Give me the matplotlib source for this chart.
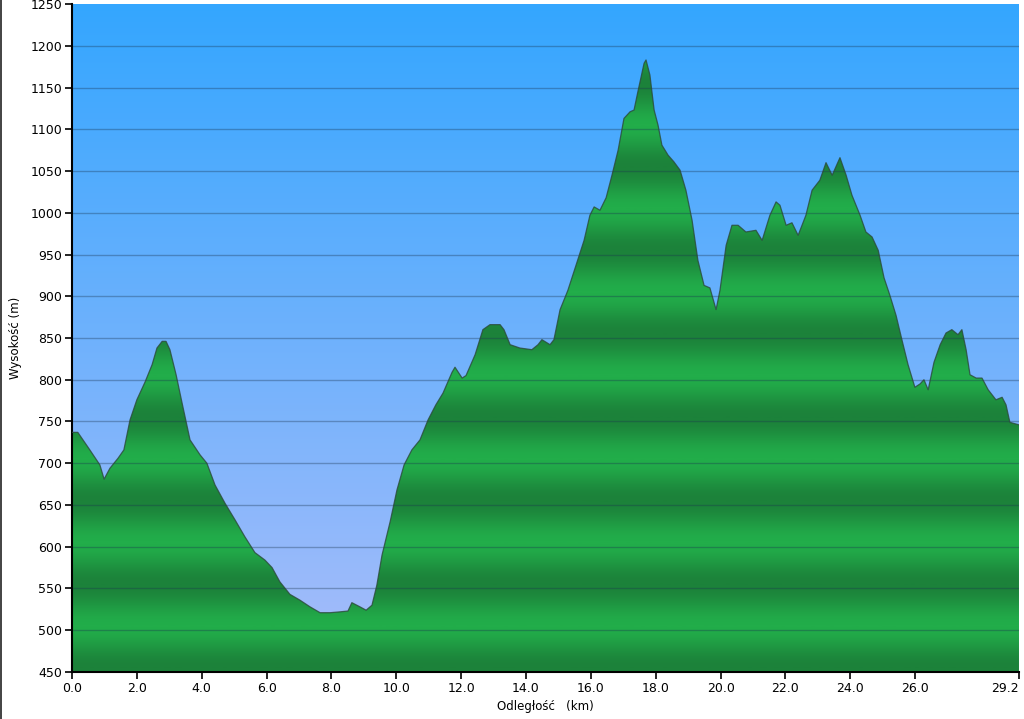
import matplotlib
matplotlib.use("Agg")
import matplotlib.pyplot as plt
from matplotlib.colors import LinearSegmentedColormap
from matplotlib.lines import Line2D
import numpy as np

# profil trasy: odleglosc (km) i wysokosc (m)
dist_km = [0.0, 0.18, 0.55, 0.86, 0.99, 1.17, 1.42, 1.60, 1.79, 2.00, 2.25, 2.47,
           2.62, 2.78, 2.90, 3.02, 3.21, 3.39, 3.64, 3.95, 4.16, 4.41, 4.72, 5.03,
           5.33, 5.64, 5.95, 6.17, 6.41, 6.72, 7.03, 7.34, 7.65, 7.96, 8.26, 8.51,
           8.63, 8.88, 9.07, 9.25, 9.40, 9.56, 9.81, 10.02, 10.24, 10.48, 10.73,
           10.98, 11.22, 11.44, 11.72, 11.81, 12.03, 12.15, 12.43, 12.67, 12.89,
           13.20, 13.32, 13.51, 13.81, 14.18, 14.37, 14.49, 14.74, 14.86, 15.05,
           15.29, 15.54, 15.79, 15.97, 16.10, 16.28, 16.47, 16.65, 16.84, 17.02,
           17.21, 17.33, 17.46, 17.64, 17.70, 17.82, 17.95, 18.07, 18.19, 18.38,
           18.56, 18.75, 18.93, 19.12, 19.30, 19.49, 19.67, 19.86, 19.98, 20.17,
           20.35, 20.54, 20.78, 21.09, 21.28, 21.52, 21.71, 21.83, 22.02, 22.20,
           22.39, 22.63, 22.82, 23.06, 23.25, 23.44, 23.68, 23.87, 24.05, 24.30,
           24.48, 24.67, 24.86, 25.04, 25.22, 25.41, 25.59, 25.78, 25.99, 26.15,
           26.27, 26.40, 26.58, 26.77, 26.95, 27.13, 27.32, 27.44, 27.57, 27.69,
           27.88, 28.06, 28.25, 28.49, 28.68, 28.80, 28.92, 29.2]
elev_m = [737, 737, 716, 698, 681, 694, 706, 716, 752, 776, 797, 818,
          838, 846, 846, 836, 806, 773, 728, 710, 700, 674, 652, 632,
          612, 593, 584, 575, 558, 543, 536, 528, 521, 521, 522, 523,
          533, 528, 524, 530, 554, 590, 630, 668, 698, 716, 728,
          752, 770, 784, 809, 815, 802, 805, 830, 860, 866,
          866, 860, 842, 838, 836, 842, 848, 842, 848, 884,
          907, 937, 967, 997, 1007, 1003, 1018, 1045, 1075, 1113,
          1121, 1123, 1147, 1179, 1183, 1165, 1123, 1105, 1081, 1069,
          1061, 1051, 1027, 991, 943, 913, 910, 884, 907, 961,
          985, 985, 977, 979, 967, 997, 1013, 1009, 985, 988,
          973, 997, 1027, 1039, 1060, 1045, 1066, 1045, 1021, 997,
          977, 971, 955, 922, 901, 877, 848, 818, 791, 795,
          800, 788, 821, 842, 856, 860, 854, 860, 836, 806,
          802, 802, 788, 776, 779, 770, 749, 746]

x_ticks = [0, 2, 4, 6, 8, 10, 12, 14, 16, 18, 20, 22, 24, 26, 29.2]
y_ticks = list(range(450, 1251, 50))

fig = plt.figure(figsize=(10.24, 7.19), dpi=100)
ax = fig.add_axes([0.0703, 0.0654, 0.9248, 0.929])
ax.set_xlim(0, 29.2)
ax.set_ylim(450, 1250)

# tlo - gradient niebieski
sky = LinearSegmentedColormap.from_list("sky", ["#a9bdfa", "#34a6ff"])
ax.imshow(np.linspace(0, 1, 256).reshape(-1, 1), cmap=sky, origin="lower",
          extent=[0, 29.2, 450, 1250], aspect="auto", zorder=0)

# zielone pasy co 100 m
e = np.linspace(450, 1250, 800)
band = 0.5 + 0.5 * np.cos(2 * np.pi * (e - 505) / 100)
green = LinearSegmentedColormap.from_list("grn", ["#1c823a", "#22ad4a"])
im = ax.imshow(band.reshape(-1, 1), cmap=green, origin="lower",
               extent=[0, 29.2, 450, 1250], aspect="auto", zorder=1)
fb = ax.fill_between(dist_km, elev_m, 450, facecolor="none", edgecolor="none")
im.set_clip_path(fb.get_paths()[0], transform=ax.transData)

ax.plot(dist_km, elev_m, color="#2b4a3a", lw=0.9, alpha=0.8, zorder=3)

for y in y_ticks[1:-1]:
    ax.axhline(y, color="#1a3550", lw=1, alpha=0.35, zorder=2)

ax.set_xticks(x_ticks)
ax.set_xticklabels(["%.1f" % v for v in x_ticks])
ax.get_xticklabels()[-1].set_horizontalalignment("right")
ax.set_yticks(y_ticks)
ax.tick_params(labelsize=9, length=5, width=1.2, direction="out", pad=2)
for s in ["top", "right"]:
    ax.spines[s].set_visible(False)
for s in ["left", "bottom"]:
    ax.spines[s].set_linewidth(1.5)
ax.set_xlabel("Odległość   (km)", fontsize=8.5, labelpad=4)
ax.set_ylabel("Wysokość (m)", fontsize=8.5, labelpad=6)

fig.add_artist(Line2D([0.0008, 0.0008], [0, 1], color="#222222", lw=1.2,
                      transform=fig.transFigure))

fig.savefig("out.png", dpi=100)
